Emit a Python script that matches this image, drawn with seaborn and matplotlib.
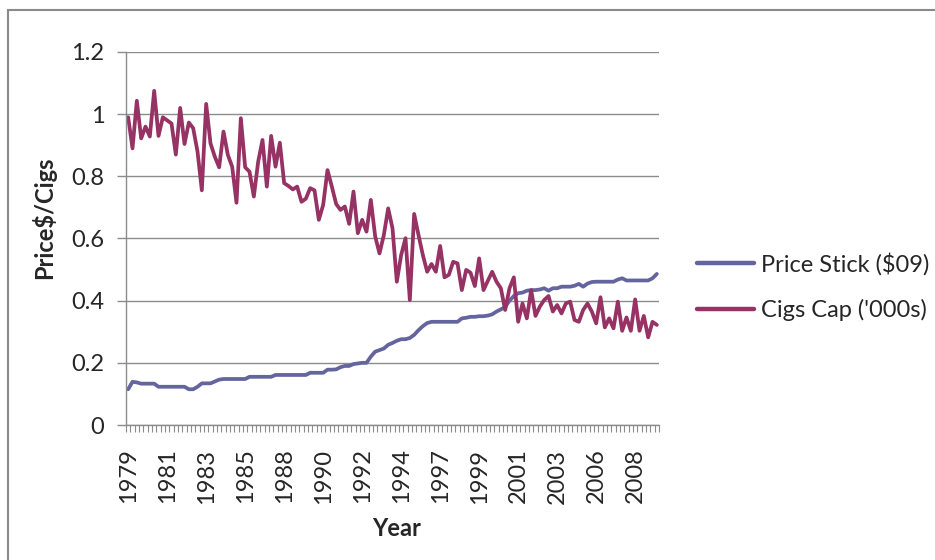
import numpy as np
import pandas as pd
import matplotlib
matplotlib.use("Agg")
import matplotlib.pyplot as plt
import seaborn as sns
from matplotlib.patches import Rectangle

# quarterly series starting 1979 Q1
price_stick = [0.115, 0.139, 0.137, 0.133, 0.133, 0.133, 0.133, 0.123, 0.123, 0.123,
               0.123, 0.123, 0.123, 0.123, 0.115, 0.115, 0.123, 0.134, 0.134, 0.134,
               0.140, 0.146, 0.148, 0.148, 0.148, 0.148, 0.148, 0.148, 0.155, 0.155,
               0.155, 0.155, 0.155, 0.155, 0.161, 0.161, 0.161, 0.161, 0.161, 0.161,
               0.161, 0.161, 0.168, 0.168, 0.168, 0.168, 0.178, 0.178, 0.179, 0.186,
               0.190, 0.190, 0.196, 0.198, 0.200, 0.200, 0.220, 0.236, 0.241, 0.246,
               0.258, 0.264, 0.271, 0.276, 0.276, 0.280, 0.290, 0.305, 0.318, 0.328,
               0.332, 0.332, 0.332, 0.332, 0.332, 0.332, 0.332, 0.343, 0.345, 0.348,
               0.348, 0.350, 0.350, 0.352, 0.356, 0.365, 0.372, 0.380, 0.400, 0.415,
               0.424, 0.426, 0.432, 0.434, 0.434, 0.436, 0.440, 0.432, 0.440, 0.440,
               0.445, 0.445, 0.445, 0.448, 0.454, 0.445, 0.455, 0.460, 0.461, 0.461,
               0.461, 0.461, 0.461, 0.468, 0.472, 0.465, 0.465, 0.465, 0.465, 0.465,
               0.465, 0.472, 0.486]

cigs_cap = [0.990, 0.890, 1.043, 0.922, 0.960, 0.928, 1.075, 0.930, 0.990, 0.980,
            0.970, 0.870, 1.020, 0.904, 0.973, 0.955, 0.880, 0.755, 1.033, 0.906,
            0.863, 0.829, 0.944, 0.869, 0.831, 0.715, 0.987, 0.829, 0.815, 0.735,
            0.847, 0.917, 0.767, 0.930, 0.831, 0.908, 0.778, 0.769, 0.758, 0.767,
            0.718, 0.728, 0.762, 0.755, 0.660, 0.708, 0.820, 0.767, 0.711, 0.692,
            0.703, 0.647, 0.751, 0.617, 0.660, 0.622, 0.724, 0.607, 0.552, 0.611,
            0.697, 0.633, 0.461, 0.547, 0.601, 0.402, 0.679, 0.611, 0.547, 0.493,
            0.518, 0.493, 0.576, 0.475, 0.483, 0.525, 0.520, 0.434, 0.499, 0.490,
            0.447, 0.536, 0.434, 0.464, 0.493, 0.461, 0.440, 0.370, 0.440, 0.475,
            0.332, 0.391, 0.343, 0.434, 0.351, 0.381, 0.402, 0.415, 0.365, 0.386,
            0.359, 0.391, 0.397, 0.338, 0.332, 0.370, 0.391, 0.365, 0.327, 0.411,
            0.314, 0.343, 0.311, 0.397, 0.303, 0.346, 0.303, 0.404, 0.303, 0.351,
            0.282, 0.332, 0.322]

# one label every 9th quarter
year_labels = ['1979', '1981', '1983', '1985', '1988', '1990', '1992',
               '1994', '1997', '1999', '2001', '2003', '2006', '2008']
y_ticks = [0, 0.2, 0.4, 0.6, 0.8, 1.0, 1.2]
y_ticklabels = ['0', '0.2', '0.4', '0.6', '0.8', '1', '1.2']

n = len(price_stick)
df = pd.DataFrame({'quarter': np.arange(n), 'price': price_stick, 'cigs': cigs_cap})

sns.set_style("white")
plt.rcParams['font.family'] = ['Lato', 'DejaVu Sans']

fig = plt.figure(figsize=(9.35, 5.6), dpi=100)
ax = fig.add_axes([126/935, 1 - 425/560, 533/935, 373/560])

grey = '#8c8c8c'
sns.lineplot(data=df, x='quarter', y='price', ax=ax, color='#64649e', lw=2.7,
             label='Price Stick ($09)')
sns.lineplot(data=df, x='quarter', y='cigs', ax=ax, color='#963264', lw=2.7,
             label="Cigs Cap ('000s)")

ax.set_xlim(-0.5, n - 0.5)
ax.set_ylim(0, 1.2)
ax.set_yticks(y_ticks)
ax.set_yticklabels(y_ticklabels)
ax.set_xticks(np.arange(0, n, 9))
ax.set_xticklabels(year_labels, rotation=90)
ax.set_xticks(np.arange(n + 1) - 0.5, minor=True)

ax.yaxis.grid(True, color=grey, lw=1)
ax.set_axisbelow(True)
for side in ['top', 'right']:
    ax.spines[side].set_visible(False)
for side in ['left', 'bottom']:
    ax.spines[side].set_color(grey)
    ax.spines[side].set_linewidth(1)

ax.tick_params(axis='y', which='major', length=6.5, width=1, color=grey, pad=9,
               labelsize=17, left=True)
ax.tick_params(axis='x', which='major', length=0, pad=17, labelsize=17, bottom=True)
ax.tick_params(axis='x', which='minor', length=5, width=0.8, color=grey, bottom=True)

ax.set_ylabel('Price$/Cigs', fontsize=17, fontweight='bold')
ax.yaxis.set_label_coords(-(126 - 44) / 533, (425 - 218) / 373)
ax.set_xlabel('Year', fontsize=17, fontweight='bold')
ax.xaxis.set_label_coords((397 - 126) / 533, -(528 - 425) / 373)
ax.xaxis.label.set_va('center')
ax.yaxis.label.set_va('center')

leg = ax.legend(loc='center left', bbox_to_anchor=(697/935, 1 - 287/560),
                bbox_transform=fig.transFigure, frameon=False, fontsize=17,
                handlelength=2.4, handletextpad=0.3, labelspacing=1.0,
                borderpad=0, borderaxespad=0)
for line in leg.get_lines():
    line.set_linewidth(3.2)

# outer chart border (only top and left edges fall inside the picture)
fig.patches.append(Rectangle((8/935, -0.1), 1.2, 1 - 10/560 + 0.1,
                             transform=fig.transFigure, fill=False,
                             edgecolor='#8a8a8a', lw=1.5))

fig.savefig('out.png', dpi=100)
